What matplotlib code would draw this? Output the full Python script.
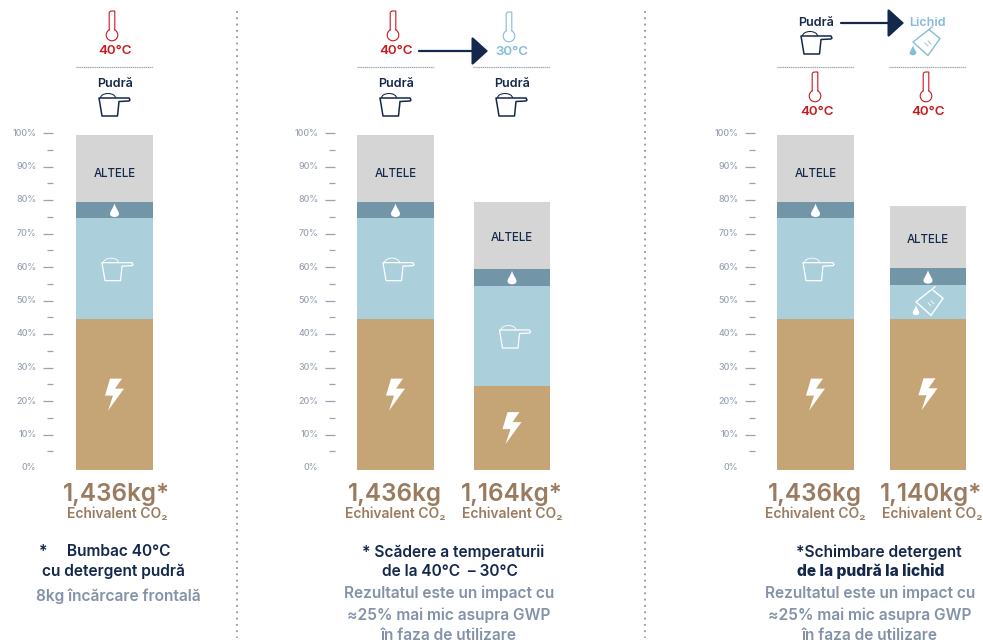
import matplotlib
matplotlib.use('Agg')
import matplotlib.pyplot as plt
import matplotlib.patches as patches
from matplotlib.path import Path
from matplotlib.ticker import FixedLocator, NullFormatter

W, H = 983, 642

# stacked values in percent of the 40C powder wash
energy = [45, 45, 25, 45, 45.2]
powder = [30.2, 30.2, 30, 30.2, 10]
water = [4.8, 4.8, 5, 4.8, 5]
other = [20, 20, 20, 20, 18.5]
totals = ['1,436kg*', '1,436kg', '1,164kg*', '1,436kg', '1,140kg*']
tick_values = [0, 10, 20, 30, 40, 50, 60, 70, 80, 90, 100]
tick_labels = ['0%', '10%', '20%', '30%', '40%', '50%', '60%', '70%', '80%', '90%', '100%']
minor_values = [5, 15, 25, 35, 45, 55, 65, 75, 85, 95]

# left edge and width of each bar, px
bar_x = [76, 357, 474, 777, 890]
bar_w = [77, 77, 76, 77, 76]
axis_x = [53, 335, 755]
total_x = [117, 395, 512, 815, 931]
co2_x = [117, 395.5, 512, 815.5, 932]
altele_y = [174, 174, 238, 174, 240]

BROWN = '#c5a475'
LIGHT = '#abcfdb'
STEEL = '#7295a8'
GREY = '#d5d5d5'
NAVY = '#14284b'
RED = '#c8191e'
SKY = '#85bcd8'
TAUPE = '#9a7b5f'
SLATE = '#8492a8'
TICK = '#98a2b3'

plt.rcParams['font.family'] = ['Inter', 'DejaVu Sans']
fig = plt.figure(figsize=(W / 100, H / 100), dpi=100)


def px_axes(x0, y_top, w, h):
    return fig.add_axes([x0 / W, 1 - (y_top + h) / H, w / W, h / H])


# overlay in pixel coordinates for the labels and icons
bg = px_axes(0, 0, W, H)
bg.set_xlim(0, W)
bg.set_ylim(H, 0)
bg.axis('off')
bg.set_zorder(5)


def thermometer(cx, top, color):
    verts = [(cx - 2.8, top + 23), (cx - 2.8, top + 2), (cx - 2.8, top), (cx, top), (cx + 2.8, top),
             (cx + 2.8, top), (cx + 2.8, top + 2), (cx + 2.8, top + 23)]
    codes = [Path.MOVETO, Path.LINETO, Path.CURVE3, Path.CURVE3, Path.LINETO, Path.CURVE3, Path.CURVE3, Path.LINETO]
    bg.add_patch(patches.PathPatch(Path(verts, codes), fc='none', ec=color, lw=0.8, zorder=5))
    bg.add_patch(patches.Circle((cx, top + 24), 5.8, fc='white', ec=color, lw=0.8, zorder=5))
    bg.add_patch(patches.Rectangle((cx - 2.3, top + 17), 4.6, 4.5, fc='white', ec='none', zorder=6))


def scoop(cx, cy, color, fc='none', lw=1.1):
    pts = [(cx - 15, cy - 8), (cx + 5, cy - 8), (cx + 15, cy - 8), (cx + 16, cy - 6), (cx + 15, cy - 5), (cx + 5, cy - 4.5),
           (cx + 3.5, cy + 10), (cx - 12, cy + 10), (cx - 15, cy - 8)]
    bg.add_patch(patches.Polygon(pts, closed=True, fc=fc, ec=color, lw=lw, joinstyle='round', zorder=5))
    bg.add_patch(patches.Arc((cx - 6, cy - 8), 15, 9, theta1=180, theta2=360, ec=color, lw=lw * 0.7, zorder=5))


def drop(cx, cy, r, color):
    verts = [(cx, cy - 2 * r), (cx + 0.4 * r, cy - 0.7 * r), (cx + r, cy - 0.3 * r), (cx + r, cy + 0.3 * r),
             (cx + r, cy + r), (cx, cy + r), (cx, cy + r), (cx, cy + r), (cx - r, cy + r), (cx - r, cy + 0.3 * r),
             (cx - r, cy - 0.3 * r), (cx - 0.4 * r, cy - 0.7 * r), (cx, cy - 2 * r)]
    codes = [Path.MOVETO] + [Path.CURVE4] * 12
    bg.add_patch(patches.PathPatch(Path(verts, codes), fc=color, ec='none', zorder=6))


def bolt(cx, cy, color='white'):
    pts = [(cx - 4.5, cy - 16), (cx + 7.5, cy - 16), (cx + 0.5, cy - 6), (cx + 9.5, cy - 6),
           (cx - 6.5, cy + 16), (cx - 1.5, cy + 1), (cx - 9.5, cy + 1)]
    bg.add_patch(patches.Polygon(pts, closed=True, fc=color, ec='none', zorder=6))


def jug(cx, cy, color, lw=1.0):
    # tilted measuring jug with a drop falling from the spout
    body = [(cx - 14, cy), (cx + 2, cy - 12.5), (cx + 13, cy - 3.5), (cx + 1, cy + 13.5)]
    bg.add_patch(patches.Polygon(body, closed=True, fc='none', ec=color, lw=lw, joinstyle='round', zorder=6))
    bg.plot([cx + 2, cx + 5], [cy - 12.5, cy - 15], color=color, lw=lw, zorder=6)
    bg.plot([cx - 2, cx + 1], [cy + 1, cy + 4], color=color, lw=lw * 0.6, zorder=6)
    bg.plot([cx + 1, cx + 4], [cy - 1, cy + 2], color=color, lw=lw * 0.6, zorder=6)
    drop(cx - 14, cy + 10, 3.3, color)


def icon_rule(x0, x1, y=67):
    bg.plot([x0, x1], [y, y], color='#9aa3b2', lw=0.9, ls=(0, (1, 0.5)), zorder=3)


def label(x, y, s, color, size, weight='semibold', ha='center'):
    bg.text(x, y, s, color=color, fontsize=size, fontweight=weight, ha=ha, va='center', zorder=7)


def arrow(x0, x1, y):
    bg.annotate('', xy=(x1, y), xytext=(x0, y), zorder=6,
                arrowprops=dict(arrowstyle='-|>,head_length=0.55,head_width=0.5', color=NAVY, lw=1.6,
                                shrinkA=0, shrinkB=0, mutation_scale=18))


# bars, each in an axes of its own sharing the percent scale
for i in range(len(bar_x)):
    ax = px_axes(bar_x[i], 135, bar_w[i], 335)
    ax.set_xlim(0, 1)
    ax.set_ylim(0, 100)
    ax.axis('off')
    bottom = 0
    for vals, col in zip([energy, powder, water, other], [BROWN, LIGHT, STEEL, GREY]):
        ax.bar(0.5, vals[i], 1, bottom=bottom, color=col, lw=0)
        bottom += vals[i]

# percent scales
for x in axis_x:
    ax = px_axes(x - 9, 133, 9, 335)
    ax.set_ylim(0, 100)
    ax.patch.set_alpha(0)
    for s in ax.spines.values():
        s.set_visible(False)
    ax.set_xticks([])
    ax.yaxis.tick_right()
    # the 0% row has a label but no dash
    ax.yaxis.set_major_locator(FixedLocator(tick_values[1:]))
    ax.yaxis.set_major_formatter(NullFormatter())
    ax.yaxis.set_minor_locator(FixedLocator(minor_values))
    ax.tick_params(axis='y', which='major', direction='in', length=7, width=0.9, color=TICK, right=True)
    ax.tick_params(axis='y', which='minor', direction='in', length=4, width=0.9, color=TICK, right=True)
    for v, t in zip(tick_values, tick_labels):
        ax.text(-0.85, v, t, color=TICK, fontsize=6.4, fontweight='medium', ha='right', va='center',
                transform=ax.get_yaxis_transform())

# segment icons
for i in range(len(bar_x)):
    cx = bar_x[i] + bar_w[i] / 2
    levels = [energy[i], energy[i] + powder[i], energy[i] + powder[i] + water[i]]
    y = [470 - v * 3.35 for v in levels]
    bolt(cx, (470 + y[0]) / 2)
    if i == 4:
        jug(cx + 2, (y[0] + y[1]) / 2, 'white')
    else:
        scoop(cx + 2.5, (y[0] + y[1]) / 2 + 2, 'white', lw=0.9)
    drop(cx, (y[1] + y[2]) / 2 + 2.5, 4.5, 'white')
    label(cx, altele_y[i], 'ALTELE', NAVY, 8.3, 'medium')

# totals under the bars
for i in range(len(bar_x)):
    label(total_x[i], 494, totals[i], TAUPE, 17.5)
    label(co2_x[i], 514, 'Echivalent CO₂', TAUPE, 10)

# panel 1 header
thermometer(112, 11, RED)
label(115, 51, '40°C', RED, 9.6)
icon_rule(76, 153)
label(115, 84, 'Pudră', NAVY, 9)
scoop(114, 106, NAVY)

# panel 2 header
thermometer(393, 11, RED)
label(396, 51, '40°C', RED, 9.6)
thermometer(509, 12, SKY)
label(512, 52, '30°C', SKY, 9.6)
icon_rule(357, 434)
icon_rule(473, 550)
label(396, 84, 'Pudră', NAVY, 9)
scoop(395, 106, NAVY)
label(512, 84, 'Pudră', NAVY, 9)
scoop(511, 106, NAVY)
arrow(419, 488, 51)

# panel 3 header
label(816, 23, 'Pudră', NAVY, 9)
scoop(816, 44, NAVY)
label(927, 23, 'Lichid', SKY, 9)
jug(927, 42, SKY)
icon_rule(777, 854)
icon_rule(889, 966)
thermometer(815, 72, RED)
label(817, 112, '40°C', RED, 9.6)
thermometer(926, 72, RED)
label(928, 112, '40°C', RED, 9.6)
arrow(841, 904, 23)

# dotted separators
for x in [237, 645]:
    bg.plot([x, x], [11, 638], color='#8a96ab', lw=1.3, ls=(0, (1, 2.5)), zorder=2)

# captions
label(105, 552, '*     Bumbac 40°C', NAVY, 11.2)
label(113.5, 571, 'cu detergent pudră', NAVY, 11.2)
label(118, 596, '8kg încărcare frontală', SLATE, 11.2)

label(453, 552, '* Scădere a temperaturii', NAVY, 11.2)
label(449.5, 571, 'de la 40°C  – 30°C', NAVY, 11.2)
label(449.5, 593, 'Rezultatul este un impact cu', SLATE, 11.2)
label(449, 615, '≈25% mai mic asupra GWP', SLATE, 11.2)
label(449, 636, 'în faza de utilizare', SLATE, 11.2)

label(879, 552, '*Schimbare detergent', NAVY, 11.2)
label(870.5, 571, 'de la pudră la lichid', NAVY, 11.2, 'heavy')
label(870.5, 593, 'Rezultatul este un impact cu', SLATE, 11.2)
label(870, 615, '≈25% mai mic asupra GWP', SLATE, 11.2)
label(870, 636, 'în faza de utilizare', SLATE, 11.2)

fig.savefig('out.png', dpi=100)
